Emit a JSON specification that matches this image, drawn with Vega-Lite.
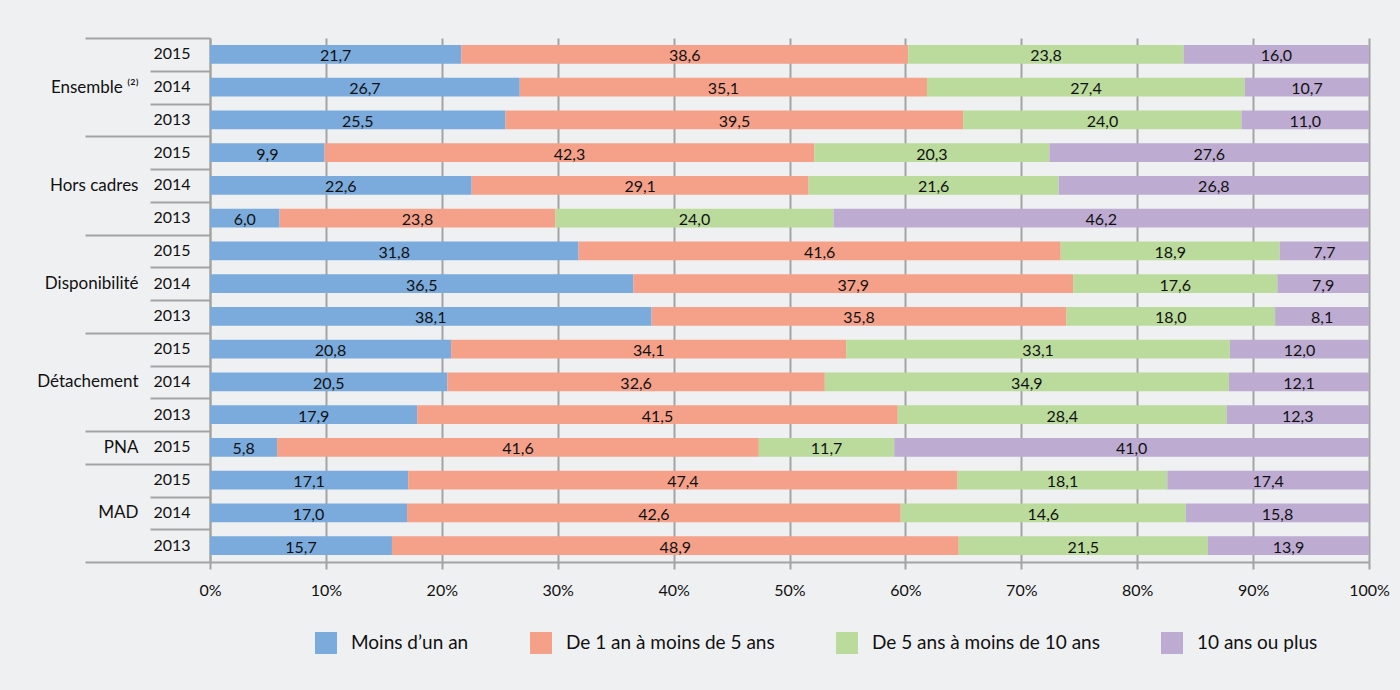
{
  "$schema": "https://vega.github.io/schema/vega-lite/v6.json",
  "width": 1159,
  "height": 524,
  "autosize": {"type": "none"},
  "padding": {"left": 210, "top": 38, "right": 31, "bottom": 128},
  "background": "#eff0f2",
  "config": {
    "locale": {"number": {"decimal": ",", "thousands": " ", "grouping": [3], "currency": ["", " €"]}},
    "font": "Lato",
    "view": {"stroke": null},
    "axis": {"labelFont": "Lato", "labelColor": "#111111"},
    "legend": {"labelFont": "Lato"}
  },
  "data": {
    "values": [
      {"g": "Ensemble ⁽²⁾", "k": "Ensemble ⁽²⁾|2015", "c": "Moins d’un an", "o": 1, "v": 21.7},
      {"g": "Ensemble ⁽²⁾", "k": "Ensemble ⁽²⁾|2015", "c": "De 1 an à moins de 5 ans", "o": 2, "v": 38.6},
      {"g": "Ensemble ⁽²⁾", "k": "Ensemble ⁽²⁾|2015", "c": "De 5 ans à moins de 10 ans", "o": 3, "v": 23.8},
      {"g": "Ensemble ⁽²⁾", "k": "Ensemble ⁽²⁾|2015", "c": "10 ans ou plus", "o": 4, "v": 16.0},
      {"g": "Ensemble ⁽²⁾", "k": "Ensemble ⁽²⁾|2014", "c": "Moins d’un an", "o": 1, "v": 26.7},
      {"g": "Ensemble ⁽²⁾", "k": "Ensemble ⁽²⁾|2014", "c": "De 1 an à moins de 5 ans", "o": 2, "v": 35.1},
      {"g": "Ensemble ⁽²⁾", "k": "Ensemble ⁽²⁾|2014", "c": "De 5 ans à moins de 10 ans", "o": 3, "v": 27.4},
      {"g": "Ensemble ⁽²⁾", "k": "Ensemble ⁽²⁾|2014", "c": "10 ans ou plus", "o": 4, "v": 10.7},
      {"g": "Ensemble ⁽²⁾", "k": "Ensemble ⁽²⁾|2013", "c": "Moins d’un an", "o": 1, "v": 25.5},
      {"g": "Ensemble ⁽²⁾", "k": "Ensemble ⁽²⁾|2013", "c": "De 1 an à moins de 5 ans", "o": 2, "v": 39.5},
      {"g": "Ensemble ⁽²⁾", "k": "Ensemble ⁽²⁾|2013", "c": "De 5 ans à moins de 10 ans", "o": 3, "v": 24.0},
      {"g": "Ensemble ⁽²⁾", "k": "Ensemble ⁽²⁾|2013", "c": "10 ans ou plus", "o": 4, "v": 11.0},
      {"g": "Hors cadres", "k": "Hors cadres|2015", "c": "Moins d’un an", "o": 1, "v": 9.9},
      {"g": "Hors cadres", "k": "Hors cadres|2015", "c": "De 1 an à moins de 5 ans", "o": 2, "v": 42.3},
      {"g": "Hors cadres", "k": "Hors cadres|2015", "c": "De 5 ans à moins de 10 ans", "o": 3, "v": 20.3},
      {"g": "Hors cadres", "k": "Hors cadres|2015", "c": "10 ans ou plus", "o": 4, "v": 27.6},
      {"g": "Hors cadres", "k": "Hors cadres|2014", "c": "Moins d’un an", "o": 1, "v": 22.6},
      {"g": "Hors cadres", "k": "Hors cadres|2014", "c": "De 1 an à moins de 5 ans", "o": 2, "v": 29.1},
      {"g": "Hors cadres", "k": "Hors cadres|2014", "c": "De 5 ans à moins de 10 ans", "o": 3, "v": 21.6},
      {"g": "Hors cadres", "k": "Hors cadres|2014", "c": "10 ans ou plus", "o": 4, "v": 26.8},
      {"g": "Hors cadres", "k": "Hors cadres|2013", "c": "Moins d’un an", "o": 1, "v": 6.0},
      {"g": "Hors cadres", "k": "Hors cadres|2013", "c": "De 1 an à moins de 5 ans", "o": 2, "v": 23.8},
      {"g": "Hors cadres", "k": "Hors cadres|2013", "c": "De 5 ans à moins de 10 ans", "o": 3, "v": 24.0},
      {"g": "Hors cadres", "k": "Hors cadres|2013", "c": "10 ans ou plus", "o": 4, "v": 46.2},
      {"g": "Disponibilité", "k": "Disponibilité|2015", "c": "Moins d’un an", "o": 1, "v": 31.8},
      {"g": "Disponibilité", "k": "Disponibilité|2015", "c": "De 1 an à moins de 5 ans", "o": 2, "v": 41.6},
      {"g": "Disponibilité", "k": "Disponibilité|2015", "c": "De 5 ans à moins de 10 ans", "o": 3, "v": 18.9},
      {"g": "Disponibilité", "k": "Disponibilité|2015", "c": "10 ans ou plus", "o": 4, "v": 7.7},
      {"g": "Disponibilité", "k": "Disponibilité|2014", "c": "Moins d’un an", "o": 1, "v": 36.5},
      {"g": "Disponibilité", "k": "Disponibilité|2014", "c": "De 1 an à moins de 5 ans", "o": 2, "v": 37.9},
      {"g": "Disponibilité", "k": "Disponibilité|2014", "c": "De 5 ans à moins de 10 ans", "o": 3, "v": 17.6},
      {"g": "Disponibilité", "k": "Disponibilité|2014", "c": "10 ans ou plus", "o": 4, "v": 7.9},
      {"g": "Disponibilité", "k": "Disponibilité|2013", "c": "Moins d’un an", "o": 1, "v": 38.1},
      {"g": "Disponibilité", "k": "Disponibilité|2013", "c": "De 1 an à moins de 5 ans", "o": 2, "v": 35.8},
      {"g": "Disponibilité", "k": "Disponibilité|2013", "c": "De 5 ans à moins de 10 ans", "o": 3, "v": 18.0},
      {"g": "Disponibilité", "k": "Disponibilité|2013", "c": "10 ans ou plus", "o": 4, "v": 8.1},
      {"g": "Détachement", "k": "Détachement|2015", "c": "Moins d’un an", "o": 1, "v": 20.8},
      {"g": "Détachement", "k": "Détachement|2015", "c": "De 1 an à moins de 5 ans", "o": 2, "v": 34.1},
      {"g": "Détachement", "k": "Détachement|2015", "c": "De 5 ans à moins de 10 ans", "o": 3, "v": 33.1},
      {"g": "Détachement", "k": "Détachement|2015", "c": "10 ans ou plus", "o": 4, "v": 12.0},
      {"g": "Détachement", "k": "Détachement|2014", "c": "Moins d’un an", "o": 1, "v": 20.5},
      {"g": "Détachement", "k": "Détachement|2014", "c": "De 1 an à moins de 5 ans", "o": 2, "v": 32.6},
      {"g": "Détachement", "k": "Détachement|2014", "c": "De 5 ans à moins de 10 ans", "o": 3, "v": 34.9},
      {"g": "Détachement", "k": "Détachement|2014", "c": "10 ans ou plus", "o": 4, "v": 12.1},
      {"g": "Détachement", "k": "Détachement|2013", "c": "Moins d’un an", "o": 1, "v": 17.9},
      {"g": "Détachement", "k": "Détachement|2013", "c": "De 1 an à moins de 5 ans", "o": 2, "v": 41.5},
      {"g": "Détachement", "k": "Détachement|2013", "c": "De 5 ans à moins de 10 ans", "o": 3, "v": 28.4},
      {"g": "Détachement", "k": "Détachement|2013", "c": "10 ans ou plus", "o": 4, "v": 12.3},
      {"g": "PNA", "k": "PNA|2015", "c": "Moins d’un an", "o": 1, "v": 5.8},
      {"g": "PNA", "k": "PNA|2015", "c": "De 1 an à moins de 5 ans", "o": 2, "v": 41.6},
      {"g": "PNA", "k": "PNA|2015", "c": "De 5 ans à moins de 10 ans", "o": 3, "v": 11.7},
      {"g": "PNA", "k": "PNA|2015", "c": "10 ans ou plus", "o": 4, "v": 41.0},
      {"g": "MAD", "k": "MAD|2015", "c": "Moins d’un an", "o": 1, "v": 17.1},
      {"g": "MAD", "k": "MAD|2015", "c": "De 1 an à moins de 5 ans", "o": 2, "v": 47.4},
      {"g": "MAD", "k": "MAD|2015", "c": "De 5 ans à moins de 10 ans", "o": 3, "v": 18.1},
      {"g": "MAD", "k": "MAD|2015", "c": "10 ans ou plus", "o": 4, "v": 17.4},
      {"g": "MAD", "k": "MAD|2014", "c": "Moins d’un an", "o": 1, "v": 17.0},
      {"g": "MAD", "k": "MAD|2014", "c": "De 1 an à moins de 5 ans", "o": 2, "v": 42.6},
      {"g": "MAD", "k": "MAD|2014", "c": "De 5 ans à moins de 10 ans", "o": 3, "v": 24.6, "t": "14,6"},
      {"g": "MAD", "k": "MAD|2014", "c": "10 ans ou plus", "o": 4, "v": 15.8},
      {"g": "MAD", "k": "MAD|2013", "c": "Moins d’un an", "o": 1, "v": 15.7},
      {"g": "MAD", "k": "MAD|2013", "c": "De 1 an à moins de 5 ans", "o": 2, "v": 48.9},
      {"g": "MAD", "k": "MAD|2013", "c": "De 5 ans à moins de 10 ans", "o": 3, "v": 21.5},
      {"g": "MAD", "k": "MAD|2013", "c": "10 ans ou plus", "o": 4, "v": 13.9}
    ]
  },
  "encoding": {
    "x": {
      "field": "v",
      "type": "quantitative",
      "stack": "normalize",
      "axis": {
        "title": null,
        "format": ".0%",
        "values": [0, 0.1, 0.2, 0.3, 0.4, 0.5, 0.6, 0.7, 0.8, 0.9, 1],
        "grid": true,
        "gridColor": "#a3a3a3",
        "gridWidth": 2,
        "domainColor": "#a3a3a3",
        "domainWidth": 2,
        "tickColor": "#a3a3a3",
        "tickWidth": 2,
        "tickSize": 7,
        "labelPadding": 13,
        "labelFontSize": 16,
        "labelFlush": false
      }
    },
    "order": {"field": "o", "type": "quantitative"}
  },
  "layer": [
    {
      "mark": {"type": "bar", "height": {"band": 0.58}},
      "encoding": {
        "y": {
          "field": "k",
          "type": "nominal",
          "sort": null,
          "scale": {"paddingInner": 0, "paddingOuter": 0},
          "axis": {
            "orient": "left",
            "title": null,
            "ticks": false,
            "domain": false,
            "labelPadding": 20,
            "labelFontSize": 16,
            "labelExpr": "split(datum.value, '|')[1]"
          }
        },
        "color": {
          "field": "c",
          "type": "nominal",
          "scale": {
            "domain": ["Moins d’un an", "De 1 an à moins de 5 ans", "De 5 ans à moins de 10 ans", "10 ans ou plus"],
            "range": ["#7aabdc", "#f5a18a", "#badb9c", "#bdabd1"]
          },
          "legend": {
            "title": null,
            "orient": "none",
            "legendX": 105,
            "legendY": 594,
            "direction": "horizontal",
            "columns": 4,
            "symbolType": "square",
            "symbolSize": 484,
            "symbolStrokeWidth": 0,
            "labelFontSize": 19,
            "labelOffset": 14,
            "columnPadding": 61,
            "labelColor": "#111111",
            "labelLimit": 400
          }
        }
      }
    },
    {
      "mark": {"type": "text", "fontSize": 16, "color": "#111111", "baseline": "middle", "dy": 2},
      "encoding": {
        "x": {"field": "v", "type": "quantitative", "stack": "normalize", "bandPosition": 0.5},
        "text": {
          "condition": {"test": "isValid(datum.t)", "field": "t"},
          "field": "v",
          "type": "quantitative",
          "format": ".1f"
        },
        "y": {
          "field": "k",
          "type": "nominal",
          "sort": null,
          "axis": {
            "orient": "left",
            "title": null,
            "domain": true,
            "domainColor": "#a3a3a3",
            "domainWidth": 2,
            "ticks": true,
            "tickBand": "extent",
            "tickColor": "#a3a3a3",
            "tickWidth": 2,
            "tickSize": {
              "condition": {"test": "indexof(['Ensemble ⁽²⁾|2015','Ensemble ⁽²⁾|2014','Hors cadres|2015','Hors cadres|2014','Disponibilité|2015','Disponibilité|2014','Détachement|2015','Détachement|2014','MAD|2015','MAD|2014'], datum.value) >= 0", "value": 60},
              "value": 125
            },
            "labelPadding": {
              "condition": {"test": "indexof(['Ensemble ⁽²⁾|2015','Ensemble ⁽²⁾|2014','Hors cadres|2015','Hors cadres|2014','Disponibilité|2015','Disponibilité|2014','Détachement|2015','Détachement|2014','MAD|2015','MAD|2014'], datum.value) >= 0", "value": 12},
              "value": -53
            },
            "labelFontSize": 17,
            "labelExpr": "indexof(['Ensemble ⁽²⁾|2014','Hors cadres|2014','Disponibilité|2014','Détachement|2014','PNA|2015','MAD|2014'], datum.value) >= 0 ? split(datum.value, '|')[0] : ''"
          }
        }
      }
    }
  ],
  "resolve": {"axis": {"y": "independent"}}
}
